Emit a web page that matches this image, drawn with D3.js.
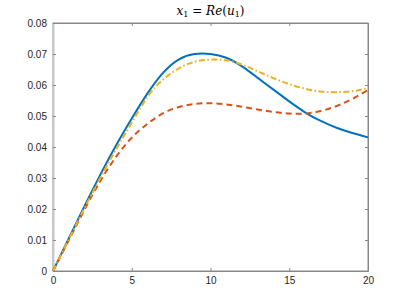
<!DOCTYPE html>
<html>
<head>
<meta charset="utf-8">
<script src="https://cdn.jsdelivr.net/npm/d3@7"></script>
<style>
  body { margin: 0; background: #fff; }
  svg { display: block; }
  .tick text { font-family: "Liberation Sans", Arial, sans-serif; font-size: 10px; fill: #262626; }
</style>
</head>
<body>
<svg id="chart" width="407" height="305"></svg>
<script>
// time samples and the three curves
const tValues = [0,1,2,3,4,5,6,7,8,9,10,11,12,13,14,15,16,17,18,19,20];
const blueValues = [0,0.0105,0.0209,0.0310,0.0405,0.0492,0.0573,0.0640,0.0683,0.0700,0.0700,0.0688,0.0660,0.0623,0.0585,0.0547,0.0512,0.0484,0.0462,0.0445,0.0431];
const redValues = [0,0.0099,0.0198,0.0290,0.0368,0.0430,0.0475,0.0509,0.0529,0.0539,0.0541,0.0537,0.0530,0.0521,0.0513,0.0508,0.0508,0.0516,0.0532,0.0555,0.0584];
const yellowValues = [0,0.0102,0.0203,0.0300,0.0392,0.0478,0.0562,0.0618,0.0654,0.0675,0.0682,0.0680,0.0666,0.0644,0.0622,0.0603,0.0588,0.0579,0.0577,0.0580,0.0590];
const xTicks = [0,5,10,15,20];
const yTicks = [0,0.01,0.02,0.03,0.04,0.05,0.06,0.07,0.08];

const svg = d3.select('#chart');
const plotLeft = 53, plotRight = 368, plotTop = 23, plotBottom = 271;

const x = d3.scaleLinear().domain([0, 20]).range([plotLeft, plotRight]);
const y = d3.scaleLinear().domain([0, 0.08]).range([plotBottom, plotTop]);

// box
svg.append('rect')
  .attr('x', plotLeft).attr('y', plotTop)
  .attr('width', plotRight - plotLeft).attr('height', plotBottom - plotTop)
  .attr('fill', 'none').attr('stroke', '#888').attr('stroke-width', 1);

// axes with inward ticks, mirrored on the other sides
const xAxis = svg.append('g').attr('transform', `translate(0,${plotBottom})`)
  .call(d3.axisBottom(x).tickValues(xTicks).tickSizeInner(-3).tickSizeOuter(0).tickPadding(6).tickFormat(d3.format('d')));
const xAxisTop = svg.append('g').attr('transform', `translate(0,${plotTop})`)
  .call(d3.axisTop(x).tickValues(xTicks).tickSizeInner(-3).tickSizeOuter(0).tickFormat(''));
const yAxis = svg.append('g').attr('transform', `translate(${plotLeft},0)`)
  .call(d3.axisLeft(y).tickValues(yTicks).tickSizeInner(-3).tickSizeOuter(0).tickPadding(6).tickFormat(d => d === 0 ? '0' : d3.format('.2f')(d)));
const yAxisRight = svg.append('g').attr('transform', `translate(${plotRight},0)`)
  .call(d3.axisRight(y).tickValues(yTicks).tickSizeInner(-3).tickSizeOuter(0).tickFormat(''));

[xAxis, xAxisTop, yAxis, yAxisRight].forEach(a => {
  a.select('.domain').attr('stroke', '#888');
  a.selectAll('.tick line').attr('stroke', '#888');
});
yAxis.select('.domain').attr('stroke', '#c8c8c8').attr('stroke-width', 2);

// curves
const series = [
  { values: blueValues, color: '#0072BD', dash: null },
  { values: redValues, color: '#D95319', dash: '6,4' },
  { values: yellowValues, color: '#EDB120', dash: '6,2.5,1.5,2.5' }
];

const line = d3.line()
  .x(d => x(d[0]))
  .y(d => y(d[1]))
  .curve(d3.curveNatural);

svg.selectAll('path.curve')
  .data(series)
  .join('path')
  .attr('class', 'curve')
  .attr('d', s => line(tValues.map((t, i) => [t, s.values[i]])))
  .attr('fill', 'none')
  .attr('stroke', s => s.color)
  .attr('stroke-width', 2)
  .attr('stroke-dasharray', s => s.dash);

// title: x_1 = Re(u_1)
const title = svg.append('text')
  .attr('x', (plotLeft + plotRight) / 2).attr('y', 15)
  .attr('text-anchor', 'middle')
  .style('font-family', '"DejaVu Serif", "Liberation Serif", serif')
  .style('font-size', '12px')
  .attr('fill', '#000');
title.append('tspan').style('font-style', 'italic').text('x');
title.append('tspan').attr('dy', 2).style('font-size', '8px').text('1');
title.append('tspan').attr('dy', -2).text(' = ');
title.append('tspan').style('font-style', 'italic').text('Re');
title.append('tspan').text('(');
title.append('tspan').style('font-style', 'italic').text('u');
title.append('tspan').attr('dy', 2).style('font-size', '8px').text('1');
title.append('tspan').attr('dy', -2).text(')');
</script>
</body>
</html>
